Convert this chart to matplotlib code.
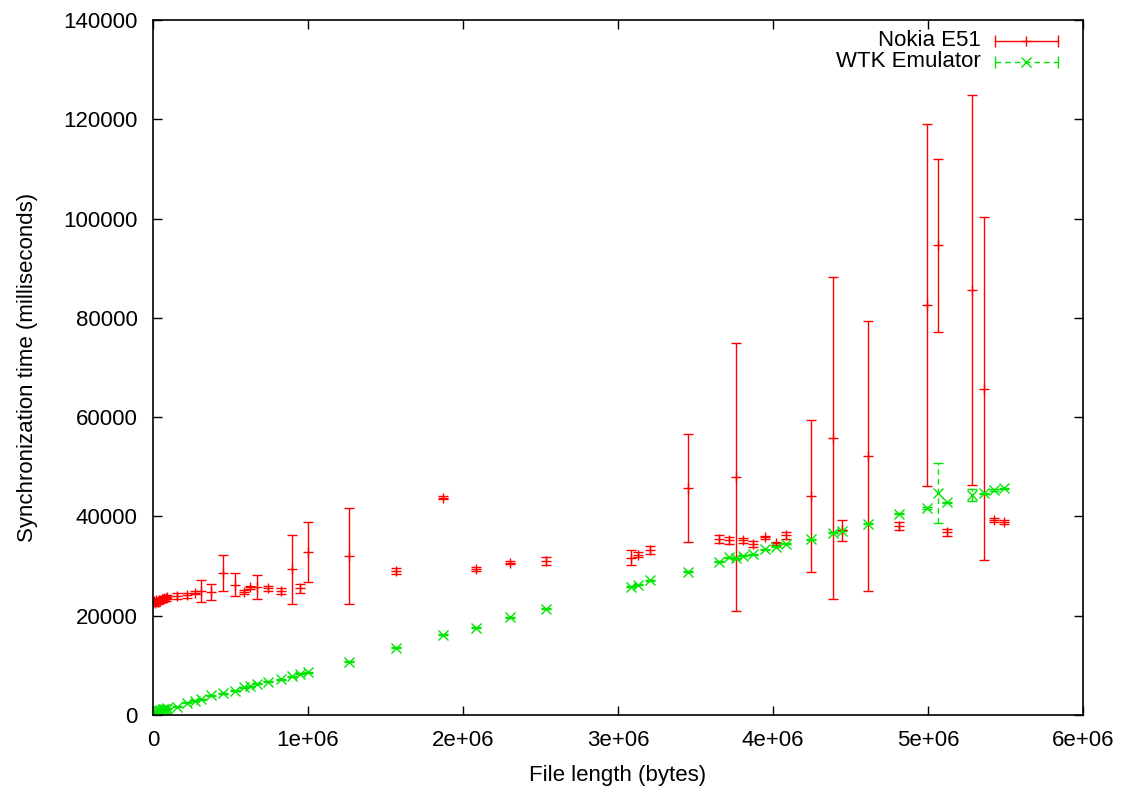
import matplotlib
matplotlib.use("Agg")
import matplotlib.pyplot as plt

plt.rcParams['font.family'] = ['Liberation Sans', 'DejaVu Sans']

# file lengths (bytes), shared by both series
file_len = [2e3, 8e3, 15e3, 22e3, 30e3, 38e3, 46e3, 55e3, 64e3, 73e3, 82e3, 92e3,
            153e3, 217e3, 270e3, 312e3, 372e3, 454e3, 527e3, 585e3, 626e3, 671e3,
            744e3, 828e3, 895e3, 950e3, 998e3,
            1263e3, 1568e3, 1869e3, 2084e3, 2305e3, 2535e3,
            3086e3, 3128e3, 3204e3, 3451e3,
            3652e3, 3714e3, 3763e3, 3808e3, 3868e3, 3949e3, 4018e3, 4083e3,
            4242e3, 4388e3, 4448e3, 4612e3, 4813e3,
            4991e3, 5062e3, 5125e3, 5284e3, 5363e3, 5428e3, 5490e3]

# Nokia E51 mean sync time and error (ms)
nokia_ms = [22700, 22900, 22600, 23100, 22800, 23200, 23000, 23400, 23300, 23600, 23500, 23800,
            23970, 24100, 24640, 24980, 24840, 28540, 26250, 24780, 25720, 25850,
            25520, 24980, 29350, 25520, 32770,
            32030, 29010, 43780, 29470, 30680, 30960,
            31690, 32300, 33240, 45790,
            35520, 35180, 47860, 35180, 34450, 35800, 34580, 36200,
            44120, 55800, 37200, 52180, 38070,
            82530, 94620, 36770, 85620, 65730, 39280, 38950]
nokia_err = [500, 400, 600, 300, 500, 400, 500, 300, 600, 400, 500, 400,
             540, 500, 300, 2200, 1600, 3650, 2350, 400, 300, 2400,
             500, 700, 6900, 900, 6050,
             9700, 700, 300, 400, 300, 800,
             1500, 500, 800, 10880,
             800, 700, 27000, 500, 600, 300, 300, 700,
             15300, 32400, 2100, 27200, 800,
             36500, 17400, 700, 39250, 34500, 500, 400]

# WTK emulator mean sync time and error (ms)
wtk_ms = [300, 500, 650, 700, 850, 900, 1000, 1050, 1150, 1200, 1300, 1400,
          1680, 2480, 2880, 3160, 3970, 4370, 4840, 5580, 5840, 6250,
          6710, 7170, 7800, 8260, 8600,
          10740, 13560, 16120, 17590, 19680, 21420,
          25850, 26190, 27130, 28870,
          30880, 31770, 31570, 32030, 32370, 33380, 33900, 34450,
          35390, 36720, 37130, 38480, 40490,
          41700, 44730, 42850, 44320, 44660, 45330, 45670]
wtk_err = [100] * 50 + [150, 6000, 150, 1200, 150, 150, 150]

red = '#ff0000'
green = '#00e600'
fs = 16

fig = plt.figure(figsize=(11.22, 7.87), dpi=100)
ax = fig.add_axes([153 / 1122, 1 - 715 / 787, 930 / 1122, 695 / 787])

ax.errorbar(file_len, nokia_ms, yerr=nokia_err, fmt='+', color=red, ms=7.5,
            mew=1, elinewidth=1, capsize=3.3, capthick=1)
eb = ax.errorbar(file_len, wtk_ms, yerr=wtk_err, fmt='x', color=green, ms=7.5,
                 mew=1, elinewidth=1, capsize=3.3, capthick=1)
eb[2][0].set_linestyle((0, (4, 3)))

ax.set_xlim(0, 6e6)
ax.set_ylim(0, 140000)
ax.set_xticks([0, 1e6, 2e6, 3e6, 4e6, 5e6, 6e6])
ax.set_xticklabels(['0', '1e+06', '2e+06', '3e+06', '4e+06', '5e+06', '6e+06'])
ax.set_yticks(range(0, 140001, 20000))
ax.tick_params(direction='in', length=6.5, width=1, top=True, right=True,
               labelsize=fs, pad=11)
for s in ax.spines.values():
    s.set_linewidth(1.2)

ax.set_xlabel('File length (bytes)', fontsize=fs, labelpad=10)
ax.set_ylabel('Synchronization time (milliseconds)', fontsize=fs, labelpad=18)

# gnuplot style key, top right
tr = ax.transAxes
ax.text(0.890, 0.970, 'Nokia E51', transform=tr, ha='right', va='center', fontsize=fs)
ax.text(0.890, 0.9396, 'WTK Emulator', transform=tr, ha='right', va='center', fontsize=fs)
ax.plot([0.905, 0.973], [0.970, 0.970], color=red, lw=1, transform=tr, clip_on=False)
ax.plot([0.939], [0.970], marker='+', color=red, ms=7.5, mew=1, transform=tr, clip_on=False)
ax.plot([0.905, 0.973], [0.970, 0.970], ls='none', marker='|', color=red, ms=8, mew=1,
        transform=tr, clip_on=False)
ax.plot([0.905, 0.973], [0.9396, 0.9396], color=green, lw=1, ls=(0, (4, 3)),
        transform=tr, clip_on=False)
ax.plot([0.939], [0.9396], marker='x', color=green, ms=7.5, mew=1, transform=tr, clip_on=False)
ax.plot([0.905, 0.973], [0.9396, 0.9396], ls='none', marker='|', color=green, ms=8, mew=1,
        transform=tr, clip_on=False)

fig.savefig('out.png', dpi=100)
